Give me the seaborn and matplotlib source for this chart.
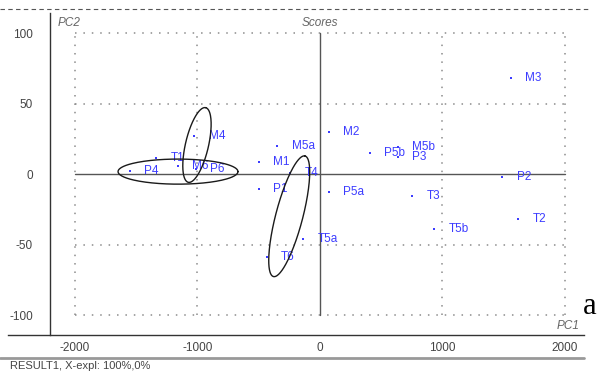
#PCA scores plot (PC1 x PC2) with groups circled
import numpy as np
import pandas as pd
import matplotlib
matplotlib.use('Agg')
import matplotlib.pyplot as plt
from matplotlib.ticker import FixedLocator
from matplotlib.lines import Line2D
import seaborn as sns

#scores
samples = ['P4', 'T1', 'M6', 'M4', 'P6', 'M1', 'M5a', 'T4', 'P1', 'T5a', 'T6',
           'M2', 'P5a', 'P5b', 'M5b', 'P3', 'T3', 'T5b', 'M3', 'P2', 'T2']
pc1 = [-1552, -1339, -1162, -1026, -1012, -497, -347, -243, -497, -135, -434,
       75, 75, 410, 639, 639, 756, 934, 1561, 1492, 1623]
pc2 = [2.3, 11.7, 6.0, 27.3, 3.3, 8.9, 20.0, 0.6, -10.7, -46.2, -59.0,
       30.2, -12.9, 15.3, 19.0, 12.2, -15.3, -38.9, 68.5, -1.8, -32.0]

x_ticks = [-2000, -1000, 0, 1000, 2000]
y_ticks = [-100, -50, 0, 50, 100]

#ellipses drawn by hand on the original: centre and two half axes (data units)
ellipses = [
    ((-1159, 1.8), (490, 0.0), (0.0, 8.9)),
    ((-1004, 20.7), (71, 26.5), (91.6, -1.85)),
    ((-250, -29.9), (129, 42.8), (106.8, -2.43)),
]

df = pd.DataFrame({'sample': samples, 'PC1': pc1, 'PC2': pc2})

sns.set_style('white')
plt.rcParams['font.family'] = ['Liberation Sans Narrow', 'Liberation Sans', 'DejaVu Sans']

fig = plt.figure(figsize=(6.07, 3.71), dpi=100)
ax = fig.add_axes([0.01367, 0.0970, 0.949, 0.8672])

blue = '#3c3cff'
grey = '#555555'

#dotted grid inside the +-2000 / +-100 box
for gx in [-2000, -1000, 1000, 2000]:
    ax.plot([gx, gx], [-100, 100], color='#8c8c8c', lw=1.1, ls=(0, (1, 4.5)), zorder=1)
for gy in [-100, -50, 50, 100]:
    ax.plot([-2000, 2000], [gy, gy], color='#8c8c8c', lw=1.1, ls=(0, (1, 4.5)), zorder=1)
ax.plot([0, 0], [-100, 100], color=grey, lw=1.0, zorder=1)
ax.plot([-2000, 2000], [0, 0], color=grey, lw=1.0, zorder=1)

sns.scatterplot(data=df, x='PC1', y='PC2', color=blue, marker='s', s=3.5,
                edgecolor=blue, linewidth=0, ax=ax, zorder=3, legend=False)
for _, r in df.iterrows():
    ax.annotate(r['sample'], (r['PC1'], r['PC2']), xytext=(10.3, 0),
                textcoords='offset points', va='center', ha='left',
                fontsize=8.5, color=blue, zorder=4)

t = np.linspace(0, 2 * np.pi, 200)
for (cx, cy), u, v in ellipses:
    ex = cx + u[0] * np.cos(t) + v[0] * np.sin(t)
    ey = cy + u[1] * np.cos(t) + v[1] * np.sin(t)
    ax.plot(ex, ey, color='#1a1a1a', lw=1.0, zorder=5)

ax.set_xlim(-2546, 2162)
ax.set_ylim(-114.2, 114.2)
ax.set_xlabel('')
ax.set_ylabel('')

sns.despine(ax=ax, top=True, right=True)
ax.spines['left'].set_position(('data', -2206))
for s in ['left', 'bottom']:
    ax.spines[s].set_color('#333333')
    ax.spines[s].set_linewidth(1.0)

ax.xaxis.set_major_locator(FixedLocator(x_ticks))
ax.xaxis.set_minor_locator(FixedLocator(range(-2000, 2001, 100)))
ax.yaxis.set_major_locator(FixedLocator(y_ticks))
ax.yaxis.set_minor_locator(FixedLocator(range(-100, 101, 10)))
ax.set_xticklabels([str(v) for v in x_ticks])
ax.set_yticklabels([str(v) for v in y_ticks])
ax.tick_params(axis='x', which='major', direction='inout', length=5.8, width=0.9,
               color='#333333', labelsize=8.5, labelcolor='#444444', pad=2)
ax.tick_params(axis='x', which='minor', direction='out', length=2, width=0.8, color='#333333')
ax.tick_params(axis='y', which='major', direction='out', length=8.6, width=0.9,
               color='#333333', labelsize=8.5, labelcolor='#444444', pad=3.5)
ax.tick_params(axis='y', which='minor', direction='out', length=3.6, width=0.8, color='#333333')
ax.grid(False)

ax.text(-2140, 107.6, 'PC2', style='italic', color='#666666', fontsize=8.5, va='center', ha='left')
ax.text(0, 107.3, 'Scores', style='italic', color='#666666', fontsize=8.5, va='center', ha='center')
ax.text(2119, -107.6, 'PC1', style='italic', color='#666666', fontsize=8.5, va='center', ha='right')

fig.add_artist(Line2D([0, 0.962], [0.0358, 0.0358], color='#999999', lw=2))
fig.add_artist(Line2D([0, 0.972], [0.9757, 0.9757], color='#555555', lw=0.8, ls=(0, (4, 3))))
fig.text(10 / 607, 0.0143, 'RESULT1, X-expl: 100%,0%', color='#444444', fontsize=8,
         va='center', ha='left')
fig.text(590 / 607, 1 - 306 / 371, 'a', family=['Liberation Serif', 'DejaVu Serif'],
         fontsize=22, color='black', va='center', ha='center')

fig.savefig('out.png', dpi=100)
